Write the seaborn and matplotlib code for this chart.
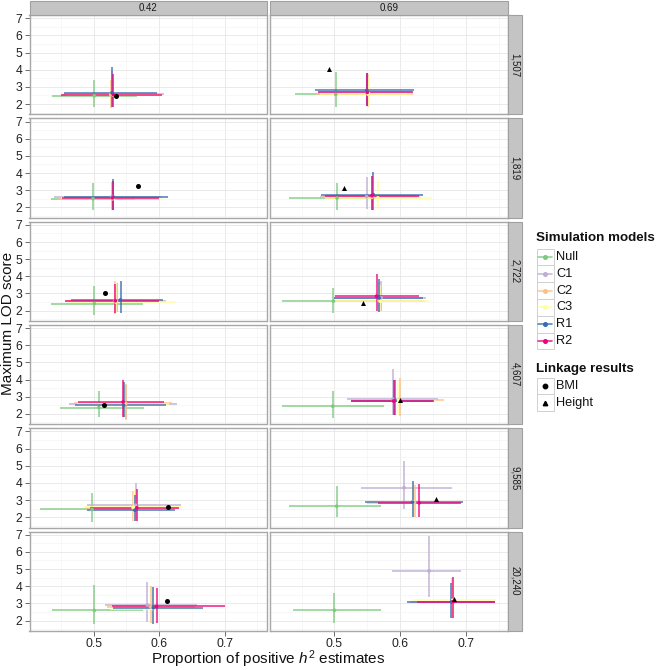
import numpy as np
import pandas as pd
import matplotlib
matplotlib.use("Agg")
import matplotlib.pyplot as plt
import seaborn as sns
from matplotlib.patches import Rectangle
from matplotlib.lines import Line2D

# ---------------- data ----------------
models = ["Null", "C1", "C2", "C3", "R1", "R2"]
colors = ["#7FC97F", "#BEAED4", "#FDC086", "#FFFF99", "#386CB0", "#F0027F"]
h2_levels = ["0.42", "0.69"]
n_levels = ["1,507", "1,819", "2,722", "4,607", "9,585", "20,240"]

# each row: one model; 12 values = column 0.42 (rows 1..6) then column 0.69 (rows 1..6)
x_mid = [
    [.501, .499, .501, .508, .4975, .501,   .502, .504, .4985, .4975, .5035, .500],
    [.528, .528, .535, .549, .564, .582,    .549, .549, .571, .589, .606, .644],
    [.526, .529, .532, .549, .560, .587,    .551, .557, .568, .599, .622, .679],
    [.530, .530, .534, .547, .561, .590,    .552, .566, .570, .597, .620, .680],
    [.528, .530, .541, .546, .563, .591,    .549, .559, .568, .592, .619, .678],
    [.530, .529, .533, .545, .566, .596,    .550, .557, .564, .590, .629, .681],
]
x_lo = [
    [.436, .435, .435, .448, .418, .436,    .440, .431, .421, .421, .431, .437],
    [.455, .440, .462, .463, .490, .517,    .475, .478, .500, .519, .540, .587],
    [.452, .445, .458, .470, .487, .520,    .472, .480, .495, .530, .550, .615],
    [.458, .450, .460, .475, .486, .525,    .478, .486, .496, .528, .552, .620],
    [.455, .455, .465, .472, .490, .530,    .471, .480, .500, .525, .546, .611],
    [.450, .452, .456, .476, .495, .528,    .475, .485, .501, .525, .566, .625],
]
x_hi = [
    [.566, .563, .575, .577, .565, .576,    .565, .570, .575, .576, .571, .571],
    [.608, .603, .610, .627, .633, .658,    .618, .625, .640, .658, .679, .693],
    [.600, .600, .606, .620, .630, .655,    .619, .630, .638, .666, .690, .742],
    [.604, .605, .624, .615, .637, .667,    .616, .649, .644, .655, .692, .745],
    [.596, .614, .606, .610, .625, .667,    .621, .634, .634, .650, .696, .744],
    [.604, .600, .600, .608, .630, .701,    .620, .628, .628, .652, .692, .744],
]
y_mid = [
    [2.48, 2.50, 2.41, 2.37, 2.45, 2.59,    2.56, 2.55, 2.55, 2.45, 2.64, 2.60],
    [2.60, 2.63, 2.58, 2.58, 2.70, 2.90,    2.68, 2.62, 2.75, 2.85, 3.72, 4.89],
    [2.55, 2.50, 2.56, 2.62, 2.55, 2.80,    2.56, 2.58, 2.58, 2.80, 2.85, 3.10],
    [2.52, 2.52, 2.50, 2.55, 2.58, 2.70,    2.60, 2.55, 2.55, 2.78, 2.90, 3.18],
    [2.65, 2.60, 2.62, 2.51, 2.41, 2.74,    2.79, 2.74, 2.74, 2.78, 2.88, 3.08],
    [2.54, 2.55, 2.57, 2.70, 2.55, 2.82,    2.68, 2.68, 2.84, 2.75, 2.84, 3.10],
]
y_lo = [
    [1.80, 1.82, 1.77, 1.82, 1.73, 1.82,    1.80, 1.86, 1.85, 1.78, 2.00, 1.88],
    [1.85, 1.85, 1.90, 1.70, 1.80, 1.90,    1.90, 1.90, 1.95, 1.95, 2.47, 3.39],
    [1.78, 1.82, 1.80, 1.67, 1.77, 1.85,    1.85, 1.85, 1.92, 1.88, 2.00, 2.15],
    [1.85, 1.85, 1.85, 1.75, 1.80, 1.85,    1.90, 1.90, 1.95, 1.95, 2.00, 2.20],
    [1.85, 1.82, 1.86, 1.80, 1.78, 1.82,    1.87, 1.86, 1.92, 1.95, 2.00, 2.12],
    [1.82, 1.82, 1.85, 1.82, 1.77, 1.88,    1.87, 1.86, 1.95, 1.92, 2.00, 2.12],
]
y_hi = [
    [3.39, 3.39, 3.43, 3.33, 3.39, 4.07,    3.88, 3.43, 3.33, 3.33, 3.84, 3.58],
    [3.90, 3.50, 3.60, 3.70, 3.97, 4.23,    3.70, 3.75, 3.70, 4.60, 5.30, 6.90],
    [3.40, 3.45, 3.74, 3.75, 3.50, 4.00,    3.75, 3.80, 3.65, 4.10, 3.90, 4.50],
    [3.60, 3.50, 3.60, 3.60, 3.60, 3.95,    3.60, 3.60, 3.50, 3.90, 3.95, 4.30],
    [4.17, 3.64, 3.70, 3.85, 3.30, 3.95,    3.82, 4.07, 3.85, 3.95, 4.14, 4.20],
    [3.75, 3.55, 3.55, 3.97, 3.65, 3.92,    3.80, 3.85, 4.13, 3.95, 3.95, 4.56],
]
# linkage results: BMI in column 0.42, Height in column 0.69
bmi_x = [.534, .568, .518, .516, .613, .612]
bmi_y = [2.48, 3.27, 3.05, 2.51, 2.57, 3.13]
height_x = [.491, .515, .544, .599, .654, .682]
height_y = [4.02, 3.15, 2.45, 2.80, 3.06, 3.25]

x_ticks = [0.5, 0.6, 0.7]
y_ticks = [2, 3, 4, 5, 6, 7]

# ---------------- tidy tables ----------------
recs = []
for mi, m in enumerate(models):
    for p in range(12):
        recs.append(dict(model=m, h2=h2_levels[p // 6], n=n_levels[p % 6],
                         x=x_mid[mi][p], xlo=x_lo[mi][p], xhi=x_hi[mi][p],
                         y=y_mid[mi][p], ylo=y_lo[mi][p], yhi=y_hi[mi][p]))
df = pd.DataFrame(recs)
link = pd.DataFrame(
    [dict(h2="0.42", n=n_levels[i], x=bmi_x[i], y=bmi_y[i], trait="BMI") for i in range(6)] +
    [dict(h2="0.69", n=n_levels[i], x=height_x[i], y=height_y[i], trait="Height") for i in range(6)])

# ---------------- style ----------------
sns.set_theme(style="white")
plt.rcParams['font.family'] = ['Liberation Sans', 'DejaVu Sans']
plt.rcParams['mathtext.fontset'] = 'custom'
plt.rcParams['mathtext.rm'] = 'Liberation Sans'
plt.rcParams['mathtext.it'] = 'Liberation Sans:italic'

W, H = 656, 670
fig = plt.figure(figsize=(W / 100, H / 100), dpi=100)
fig.patch.set_facecolor("white")

def rect(x0, y0, x1, y1):
    return [x0 / W, 1 - y1 / H, (x1 - x0) / W, (y1 - y0) / H]

def fx(x):
    return x / W

def fy(y):
    return 1 - y / H

col_x = [(29.5, 266.5), (270.0, 508.0)]
row_top = [15 + i * 103.3 for i in range(6)]
ph = 99.3
pal = dict(zip(models, colors))
strip_fill = "#C4C4C4"
strip_edge = "#A0A0A0"
LW = 1.25
ALPHA = 0.8

for ci, h2 in enumerate(h2_levels):
    # top strip
    x0, x1 = col_x[ci]
    fig.add_artist(Rectangle((fx(x0), fy(15)), (x1 - x0) / W, 14 / H, transform=fig.transFigure,
                             facecolor=strip_fill, edgecolor=strip_edge, lw=0.8))
    fig.text(fx((x0 + x1) / 2), fy(8.3), h2, ha="center", va="center", fontsize=7, color="#1a1a1a")
    for ri, n in enumerate(n_levels):
        t = row_top[ri]
        ax = fig.add_axes(rect(x0, t, x1, t + ph))
        ax.set_facecolor("white")
        ax.set_xlim(0.402, 0.764)
        ax.set_ylim(1.4, 7.19)
        ax.set_xticks(x_ticks)
        ax.set_yticks(y_ticks)
        ax.set_xticks([0.45, 0.55, 0.65, 0.75], minor=True)
        ax.set_yticks([1.5, 2.5, 3.5, 4.5, 5.5, 6.5], minor=True)
        ax.grid(which="major", color="#E6E6E6", lw=0.6)
        ax.grid(which="minor", color="#F4F4F4", lw=0.5)
        ax.set_axisbelow(True)
        for s in ax.spines.values():
            s.set_color("#A8A8A8")
            s.set_linewidth(1.0)
        ax.tick_params(which="minor", length=0)
        ax.tick_params(which="major", length=3.5, width=0.6, color="#555555",
                       labelsize=8.8, labelcolor="#222222", pad=1.5,
                       left=(ci == 0), bottom=(ri == 5),
                       labelleft=(ci == 0), labelbottom=(ri == 5))
        ax.set_xticklabels([f"{v:.1f}" for v in x_ticks])

        sub = df[(df.h2 == h2) & (df.n == n)]
        for _, r in sub.iterrows():
            c = pal[r.model]
            ax.hlines(r.y, r.xlo, r.xhi, color=c, lw=LW, alpha=ALPHA, zorder=3)
            ax.vlines(r.x, r.ylo, r.yhi, color=c, lw=LW, alpha=ALPHA, zorder=3)
        sns.scatterplot(data=sub, x="x", y="y", hue="model", palette=pal, hue_order=models,
                        s=7, linewidth=0, legend=False, ax=ax, zorder=4)
        lsub = link[(link.h2 == h2) & (link.n == n)]
        sns.scatterplot(data=lsub, x="x", y="y", color="black",
                        marker=("o" if h2 == "0.42" else "^"), s=13, linewidth=0,
                        legend=False, ax=ax, zorder=5)
        ax.set_xlabel("")
        ax.set_ylabel("")

        if ci == 1:
            fig.add_artist(Rectangle((fx(508), fy(t + ph)), 14 / W, ph / H, transform=fig.transFigure,
                                     facecolor=strip_fill, edgecolor=strip_edge, lw=0.8))
            fig.text(fx(515.3), fy(t + ph / 2), n, ha="center", va="center", rotation=-90,
                     fontsize=7, color="#1a1a1a")

# axis titles
fig.text(fx(268.5), fy(659), "Proportion of positive $h^2$ estimates", ha="center", va="center",
         fontsize=11, color="#111111")
fig.text(fx(8.5), fy(323), "Maximum LOD score", ha="center", va="center", rotation=90,
         fontsize=11, color="#111111")

# ---------------- legend (drawn by hand, ggplot style) ----------------
kx0, kx1 = 536.5, 553.5
fig.text(fx(536.5), fy(238), "Simulation models", ha="left", va="center", fontsize=9.6,
         fontweight="bold", color="#111111")
key_h = 16.8
for i, (m, c) in enumerate(zip(models, colors)):
    yc = 257 + i * key_h
    fig.add_artist(Rectangle((fx(kx0), fy(yc + key_h / 2)), (kx1 - kx0) / W, key_h / H,
                             transform=fig.transFigure, facecolor="white", edgecolor="#D0D0D0", lw=0.7))
    fig.add_artist(Line2D([fx(kx0 + 1.5), fx(kx1 - 1.5)], [fy(yc), fy(yc)], transform=fig.transFigure,
                          color=c, lw=LW, alpha=ALPHA))
    fig.add_artist(Line2D([fx((kx0 + kx1) / 2)], [fy(yc)], transform=fig.transFigure,
                          color=c, marker="o", markersize=2.6, lw=0))
    fig.text(fx(556), fy(yc), m, ha="left", va="center", fontsize=9.2, color="#111111")

fig.text(fx(536.5), fy(369), "Linkage results", ha="left", va="center", fontsize=9.6,
         fontweight="bold", color="#111111")
for i, (lab, mk) in enumerate([("BMI", "o"), ("Height", "^")]):
    yc = 386 + i * key_h
    fig.add_artist(Rectangle((fx(kx0), fy(yc + key_h / 2)), (kx1 - kx0) / W, key_h / H,
                             transform=fig.transFigure, facecolor="white", edgecolor="#D0D0D0", lw=0.7))
    fig.add_artist(Line2D([fx((kx0 + kx1) / 2)], [fy(yc)], transform=fig.transFigure,
                          color="black", marker=mk, markersize=3.2, lw=0))
    fig.text(fx(556), fy(yc), lab, ha="left", va="center", fontsize=9.2, color="#111111")

fig.savefig("out.png", dpi=100, facecolor="white")
